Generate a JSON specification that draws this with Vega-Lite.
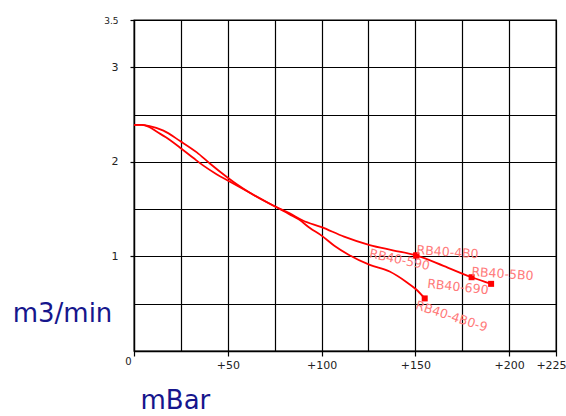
{
  "$schema": "https://vega.github.io/schema/vega-lite/v6.json",
  "width": 422,
  "height": 331,
  "autosize": {"type": "none"},
  "padding": {"left": 134, "top": 20, "right": 10, "bottom": 65},
  "background": "white",
  "config": {
    "font": "DejaVu Sans",
    "view": {"stroke": "#000", "strokeWidth": 1.3}
  },
  "datasets": {
    "curves": [
      {"series": "RB40-5B0", "x": 0, "y": 2.39},
      {"series": "RB40-5B0", "x": 4, "y": 2.39},
      {"series": "RB40-5B0", "x": 7.8, "y": 2.38},
      {"series": "RB40-5B0", "x": 15.7, "y": 2.33},
      {"series": "RB40-5B0", "x": 24.6, "y": 2.22},
      {"series": "RB40-5B0", "x": 33.5, "y": 2.1},
      {"series": "RB40-5B0", "x": 40.6, "y": 1.98},
      {"series": "RB40-5B0", "x": 49.5, "y": 1.84},
      {"series": "RB40-5B0", "x": 55, "y": 1.76},
      {"series": "RB40-5B0", "x": 62, "y": 1.67},
      {"series": "RB40-5B0", "x": 75, "y": 1.53},
      {"series": "RB40-5B0", "x": 83, "y": 1.455},
      {"series": "RB40-5B0", "x": 90, "y": 1.38},
      {"series": "RB40-5B0", "x": 100, "y": 1.31},
      {"series": "RB40-5B0", "x": 112, "y": 1.21},
      {"series": "RB40-5B0", "x": 125.7, "y": 1.12},
      {"series": "RB40-5B0", "x": 138, "y": 1.065},
      {"series": "RB40-5B0", "x": 150.5, "y": 1.01},
      {"series": "RB40-5B0", "x": 165, "y": 0.9},
      {"series": "RB40-5B0", "x": 180, "y": 0.78},
      {"series": "RB40-5B0", "x": 190.4, "y": 0.71},
      {"series": "RB40-4B0-9", "x": 0, "y": 2.39},
      {"series": "RB40-4B0-9", "x": 4, "y": 2.39},
      {"series": "RB40-4B0-9", "x": 8, "y": 2.37},
      {"series": "RB40-4B0-9", "x": 12, "y": 2.32},
      {"series": "RB40-4B0-9", "x": 17, "y": 2.26},
      {"series": "RB40-4B0-9", "x": 24.6, "y": 2.15},
      {"series": "RB40-4B0-9", "x": 31.7, "y": 2.04},
      {"series": "RB40-4B0-9", "x": 37, "y": 1.96},
      {"series": "RB40-4B0-9", "x": 44, "y": 1.87},
      {"series": "RB40-4B0-9", "x": 51.2, "y": 1.79},
      {"series": "RB40-4B0-9", "x": 62, "y": 1.67},
      {"series": "RB40-4B0-9", "x": 75, "y": 1.53},
      {"series": "RB40-4B0-9", "x": 83, "y": 1.445},
      {"series": "RB40-4B0-9", "x": 88, "y": 1.39},
      {"series": "RB40-4B0-9", "x": 93.8, "y": 1.3},
      {"series": "RB40-4B0-9", "x": 100, "y": 1.22},
      {"series": "RB40-4B0-9", "x": 107, "y": 1.11},
      {"series": "RB40-4B0-9", "x": 114.2, "y": 1.02},
      {"series": "RB40-4B0-9", "x": 125.7, "y": 0.91},
      {"series": "RB40-4B0-9", "x": 136.3, "y": 0.84},
      {"series": "RB40-4B0-9", "x": 145.2, "y": 0.73},
      {"series": "RB40-4B0-9", "x": 150.5, "y": 0.65},
      {"series": "RB40-4B0-9", "x": 155, "y": 0.556}
    ],
    "ends": [
      {"label": "RB40-4B0", "x": 150.5, "y": 1.01},
      {"label": "RB40-590", "x": 150.5, "y": 1.01},
      {"label": "RB40-690", "x": 180, "y": 0.78},
      {"label": "RB40-5B0", "x": 190.4, "y": 0.71},
      {"label": "RB40-4B0-9", "x": 155, "y": 0.556}
    ]
  },
  "data": {"name": "ends"},
  "encoding": {
    "x": {
      "field": "x",
      "type": "quantitative",
      "scale": {"domain": [0, 225], "nice": false, "zero": false},
      "axis": {
        "title": "mBar",
        "titleFont": "DejaVu Sans",
        "titleFontSize": 26,
        "titleFontWeight": "normal",
        "titleColor": "#16168c",
        "titleAlign": "left",
        "titleBaseline": "alphabetic",
        "titleAnchor": null,
        "titleX": 6,
        "titleY": 57,
        "values": [0, 25, 50, 75, 100, 125, 150, 175, 200, 225],
        "labelExpr": "datum.value == 0 ? '0' : (datum.value % 50 == 0 || datum.value == 225) ? '+' + datum.value : ''",
        "labelFont": "DejaVu Sans",
        "labelFontSize": {"condition": {"test": "datum.value == 0", "value": 10}, "value": 11},
        "labelColor": "#222",
        "labelAlign": {"condition": {"test": "datum.value == 0", "value": "right"}, "value": "center"},
        "labelOffset": {"condition": [{"test": "datum.value == 0", "value": -3}, {"test": "datum.value == 225", "value": -5}], "value": 0},
        "labelPadding": {"condition": {"test": "datum.value == 0", "value": 0}, "value": 3},
        "labelFlush": false,
        "labelOverlap": false,
        "tickColor": "#000",
        "tickSize": 5,
        "tickWidth": 1.2,
        "tickOpacity": {"condition": {"test": "datum.value % 50 == 0 || datum.value == 225", "value": 1}, "value": 0},
        "domainColor": "#000",
        "domainWidth": 1.3,
        "grid": true,
        "gridColor": "#000",
        "gridWidth": 1.2,
        "gridOpacity": 1
      }
    },
    "y": {
      "field": "y",
      "type": "quantitative",
      "scale": {"domain": [0, 3.5], "nice": false, "zero": false},
      "axis": {
        "title": "m3/min",
        "titleFont": "DejaVu Sans",
        "titleFontSize": 26,
        "titleFontWeight": "normal",
        "titleColor": "#16168c",
        "titleAngle": 0,
        "titleAlign": "center",
        "titleBaseline": "alphabetic",
        "titleAnchor": null,
        "titleX": -72,
        "titleY": 301,
        "values": [0, 0.5, 1, 1.5, 2, 2.5, 3, 3.5],
        "labelExpr": "(datum.value == 1 || datum.value == 2 || datum.value == 3 || datum.value == 3.5) ? '' + datum.value : ''",
        "labelFont": "DejaVu Sans",
        "labelFontSize": {"condition": {"test": "datum.value == 3.5", "value": 9}, "value": 11},
        "labelColor": "#222",
        "labelPadding": 12,
        "labelFlush": false,
        "labelOverlap": false,
        "tickColor": "#000",
        "tickSize": 4,
        "tickWidth": 1.2,
        "tickOpacity": {"condition": {"test": "datum.value == 1 || datum.value == 2 || datum.value == 3 || datum.value == 3.5", "value": 1}, "value": 0},
        "domainColor": "#000",
        "domainWidth": 1.3,
        "grid": true,
        "gridColor": "#000",
        "gridWidth": 1.2,
        "gridOpacity": 1
      }
    }
  },
  "layer": [
    {
      "data": {"name": "curves"},
      "mark": {"type": "line", "color": "#ff0000", "strokeWidth": 1.8, "interpolate": "monotone"},
      "encoding": {"detail": {"field": "series", "type": "nominal"}}
    },
    {
      "mark": {"type": "square", "color": "#ff0000", "size": 36, "opacity": 1, "filled": true}
    },
    {
      "transform": [{"filter": "datum.label == 'RB40-4B0'"}],
      "mark": {"type": "text", "angle": 4, "dx": 31, "dy": -5.4, "align": "center", "baseline": "middle", "fontSize": 12.5, "font": "DejaVu Sans", "color": "#ff7a7a"},
      "encoding": {"text": {"field": "label"}}
    },
    {
      "transform": [{"filter": "datum.label == 'RB40-590'"}],
      "mark": {"type": "text", "angle": 12, "dx": -15.4, "dy": 7.7, "align": "center", "baseline": "middle", "fontSize": 12.5, "font": "DejaVu Sans", "color": "#ff7a7a"},
      "encoding": {"text": {"field": "label"}}
    },
    {
      "transform": [{"filter": "datum.label == 'RB40-690'"}],
      "mark": {"type": "text", "angle": 6, "dx": -12.6, "dy": 11.2, "align": "center", "baseline": "middle", "fontSize": 12.5, "font": "DejaVu Sans", "color": "#ff7a7a"},
      "encoding": {"text": {"field": "label"}}
    },
    {
      "transform": [{"filter": "datum.label == 'RB40-5B0'"}],
      "mark": {"type": "text", "angle": 4, "dx": 10.6, "dy": -10.6, "align": "center", "baseline": "middle", "fontSize": 12.5, "font": "DejaVu Sans", "color": "#ff7a7a"},
      "encoding": {"text": {"field": "label"}}
    },
    {
      "transform": [{"filter": "datum.label == 'RB40-4B0-9'"}],
      "mark": {"type": "text", "angle": 18, "dx": 31, "dy": 8.9, "align": "center", "baseline": "middle", "fontSize": 12.5, "font": "DejaVu Sans", "color": "#ff7a7a"},
      "encoding": {"text": {"field": "label"}}
    }
  ]
}
